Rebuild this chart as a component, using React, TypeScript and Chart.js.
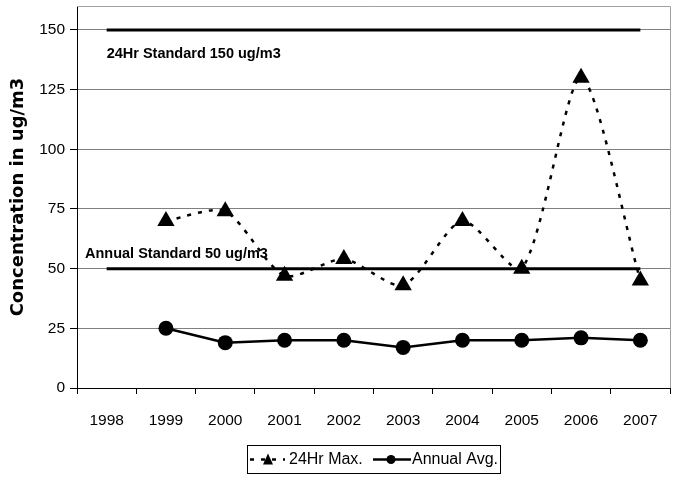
import React, { useEffect, useRef } from "react";
import { Chart, registerables } from "chart.js";

Chart.register(...registerables);

const years = ["1998", "1999", "2000", "2001", "2002", "2003", "2004", "2005", "2006", "2007"];
const max24hr = [null, 70, 74, 47, 54, 43, 70, 50, 130, 45];
const annualAvg = [null, 25, 19, 20, 20, 17, 20, 20, 21, 20];
const std24hr = [150, 150, 150, 150, 150, 150, 150, 150, 150, 150];
const stdAnnual = [50, 50, 50, 50, 50, 50, 50, 50, 50, 50];
const yTicks = [0, 25, 50, 75, 100, 125, 150];
const label24 = "24Hr Standard 150 ug/m3";
const labelAnnual = "Annual Standard 50 ug/m3";
const legendNames = ["24Hr Max.", "Annual Avg."];

const FONT = "'Liberation Sans', Arial, sans-serif";

const decorPlugin = {
  id: "decor",
  afterDraw(chart: any) {
    const ctx = chart.ctx;
    const { left, right, top, bottom } = chart.chartArea;
    const x = chart.scales.x;
    const y = chart.scales.y;
    ctx.save();
    // plot frame (top and right)
    ctx.strokeStyle = "#a0a0a0";
    ctx.lineWidth = 1;
    ctx.beginPath();
    ctx.moveTo(left, top + 0.5);
    ctx.lineTo(right + 0.5, top + 0.5);
    ctx.lineTo(right + 0.5, bottom);
    ctx.stroke();

    // annotations
    ctx.fillStyle = "#000";
    ctx.font = "bold 14.5px " + FONT;
    ctx.textBaseline = "middle";
    ctx.textAlign = "left";
    ctx.fillText(label24, x.getPixelForValue(0), y.getPixelForValue(140));
    ctx.fillText(labelAnnual, left + 8, y.getPixelForValue(56));

    // legend
    const bx = 247, by = 445, bw = 253, bh = 28;
    ctx.fillStyle = "#fff";
    ctx.fillRect(bx, by, bw, bh);
    ctx.strokeStyle = "#000";
    ctx.lineWidth = 1;
    ctx.strokeRect(bx + 0.5, by + 0.5, bw, bh);
    const cy = by + bh / 2 + 0.5;
    // item 1: dashed line with triangle
    ctx.lineWidth = 2.5;
    ctx.setLineDash([4, 7]);
    ctx.beginPath();
    ctx.moveTo(250, cy);
    ctx.lineTo(285, cy);
    ctx.stroke();
    ctx.setLineDash([]);
    ctx.fillStyle = "#000";
    ctx.beginPath();
    ctx.moveTo(268, cy - 6);
    ctx.lineTo(273, cy + 5);
    ctx.lineTo(263, cy + 5);
    ctx.closePath();
    ctx.fill();
    ctx.font = "16px " + FONT;
    ctx.textAlign = "left";
    ctx.fillText(legendNames[0], 289, cy);
    // item 2: solid line with circle
    ctx.beginPath();
    ctx.moveTo(373, cy);
    ctx.lineTo(411, cy);
    ctx.stroke();
    ctx.beginPath();
    ctx.arc(391, cy, 4.5, 0, Math.PI * 2);
    ctx.fill();
    ctx.fillText(legendNames[1], 412, cy);
    ctx.restore();
  },
};

export default function App() {
  const ref = useRef<HTMLCanvasElement | null>(null);
  useEffect(() => {
    if (!ref.current) return;
    const chart = new Chart(ref.current, {
      type: "line",
      data: {
        labels: years,
        datasets: [
          {
            label: "std150",
            data: std24hr,
            borderColor: "#000",
            borderWidth: 3,
            pointRadius: 0,
            fill: false,
          },
          {
            label: "std50",
            data: stdAnnual,
            borderColor: "#000",
            borderWidth: 3,
            pointRadius: 0,
            fill: false,
          },
          {
            label: legendNames[0],
            data: max24hr,
            borderColor: "#000",
            backgroundColor: "#000",
            borderWidth: 2.5,
            borderDash: [4, 7],
            tension: 0.25,
            pointStyle: "triangle",
            pointRadius: 10,
            pointBorderWidth: 0,
            pointBackgroundColor: "#000",
            fill: false,
          },
          {
            label: legendNames[1],
            data: annualAvg,
            borderColor: "#000",
            backgroundColor: "#000",
            borderWidth: 2.5,
            pointStyle: "circle",
            pointRadius: 7.5,
            pointBorderWidth: 0,
            pointBackgroundColor: "#000",
            fill: false,
          },
        ],
      },
      options: {
        responsive: false,
        animation: false,
        layout: { autoPadding: false, padding: { left: 0, right: 4, top: 6, bottom: 0 } },
        plugins: {
          legend: { display: false },
          tooltip: { enabled: false },
        },
        scales: {
          x: {
            type: "category",
            offset: true,
            grid: {
              offset: true,
              drawOnChartArea: false,
              drawTicks: true,
              tickLength: 6,
              tickColor: "#000",
            },
            border: { color: "#000", width: 1 },
            ticks: {
              color: "#000",
              font: { family: FONT, size: 15.5 },
              padding: 17,
              maxRotation: 0,
            },
            afterFit(scale: any) {
              scale.height = 90;
              scale.paddingLeft = 0;
              scale.paddingRight = 0;
            },
          },
          y: {
            min: 0,
            max: 160,
            afterBuildTicks(scale: any) {
              scale.ticks = yTicks.map((v) => ({ value: v }));
            },
            grid: {
              color: "#808080",
              lineWidth: 1,
              tickLength: 7,
              tickColor: "#000",
            },
            border: { color: "#000", width: 1 },
            ticks: {
              color: "#000",
              font: { family: FONT, size: 15.5 },
              padding: 5,
            },
            title: {
              display: true,
              text: "Concentration in ug/m3",
              color: "#000",
              font: { family: "'DejaVu Sans', Verdana, sans-serif", size: 18, weight: "bold" },
              padding: { top: 8, bottom: 6 },
            },
            afterFit(scale: any) {
              scale.width = 77;
              scale.paddingTop = 0;
              scale.paddingBottom = 0;
            },
          },
        },
      },
      plugins: [decorPlugin],
    });
    return () => chart.destroy();
  }, []);
  return (
    <div style={{ position: "fixed", left: 0, top: 0, width: 674, height: 478, background: "#fff" }}>
      <canvas ref={ref} width={674} height={478} />
    </div>
  );
}
